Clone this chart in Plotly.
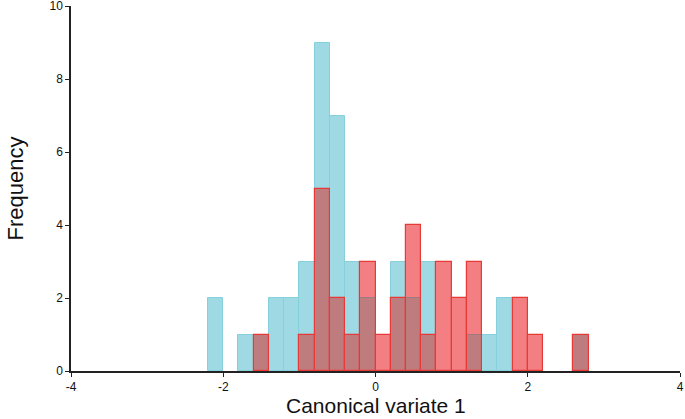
import plotly.graph_objects as go

# bin centres (bin width 0.2) from -2.1 to 2.7
bin_centers = [round(-2.1 + 0.2 * i, 2) for i in range(25)]
cyan_counts = [2, 0, 1, 1, 2, 2, 3, 9, 7, 3, 2, 0, 3, 2, 3, 0, 0, 1, 1, 2, 0, 0, 0, 0, 1]
red_counts = [0, 0, 0, 1, 0, 0, 1, 5, 2, 1, 3, 1, 2, 4, 1, 3, 2, 3, 0, 0, 2, 1, 0, 0, 1]
overlap_counts = [min(c, r) for c, r in zip(cyan_counts, red_counts)]


def nz(vals):
    # empty bins are not drawn at all
    return [v if v > 0 else None for v in vals]


CYAN = "#9fd9e4"
CYAN_LINE = "#86cfdd"
PINK = "#f47f82"
RED_LINE = "#e53a35"
BROWN = "#bf7c7f"

fig = go.Figure()
fig.add_trace(go.Bar(x=bin_centers, y=nz(cyan_counts), width=0.2,
                     marker=dict(color=CYAN, line=dict(color=CYAN_LINE, width=1))))
fig.add_trace(go.Bar(x=bin_centers, y=nz(red_counts), width=0.2,
                     marker=dict(color=PINK, line=dict(width=0))))
fig.add_trace(go.Bar(x=bin_centers, y=nz(overlap_counts), width=0.2,
                     marker=dict(color=BROWN, line=dict(color="#a07a7e", width=1))))
fig.add_trace(go.Bar(x=bin_centers, y=nz(red_counts), width=0.2,
                     marker=dict(color="rgba(0,0,0,0)", line=dict(color=RED_LINE, width=1.2))))

L, R, T, B = 71, 5, 6, 48
plot_w, plot_h = 685 - L - R, 419 - T - B

fig.update_layout(
    width=685, height=419,
    barmode="overlay", bargap=0,
    showlegend=False,
    plot_bgcolor="white", paper_bgcolor="white",
    margin=dict(l=L, r=R, t=T, b=B),
    font=dict(family="Liberation Sans, Arial, sans-serif", color="#111"),
    annotations=[
        dict(text="Canonical variate 1", xref="paper", yref="paper",
             x=0.5, y=-(405 - (419 - B)) / plot_h, xanchor="center", yanchor="middle",
             showarrow=False, font=dict(size=21, color="#111")),
        dict(text="Frequency", xref="paper", yref="paper", textangle=-90,
             x=(15 - L) / plot_w, y=0.5, xanchor="center", yanchor="middle",
             showarrow=False, font=dict(size=22, color="#111")),
    ],
)
fig.update_xaxes(
    range=[-4, 4], tickvals=[-4, -2, 0, 2, 4], ticktext=["-4", "-2", "0", "2", "4"],
    showgrid=False, zeroline=False, showline=True, linecolor="#222", linewidth=1.5,
    ticks="outside", ticklen=4, tickcolor="#222", tickfont=dict(size=12),
    automargin=False, ticklabeloverflow="allow",
)
fig.update_yaxes(
    range=[0, 10], tickvals=[0, 2, 4, 6, 8, 10],
    showgrid=False, zeroline=False, showline=True, linecolor="#222", linewidth=1.5,
    ticks="outside", ticklen=4, tickcolor="#222", tickfont=dict(size=12),
    automargin=False, ticklabeloverflow="allow",
)

# the page's default body margin would shift the chart by 8px
fig.write_html("out.html", config={"displayModeBar": False},
               post_script="document.body.style.margin='0';")
